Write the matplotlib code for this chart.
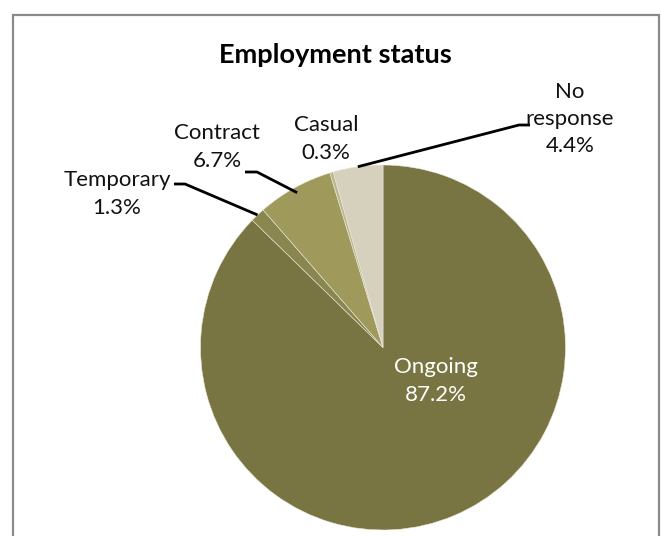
import numpy as np
import matplotlib.pyplot as plt
from matplotlib.patches import Rectangle

categories = ["Ongoing", "Temporary", "Contract", "Casual", "No response"]
label_text = ["Ongoing", "Temporary", "Contract", "Casual", "No\nresponse"]
values = [87.2, 1.3, 6.7, 0.3, 4.4]

couleurs = ["#787542", "#8A8650", "#9F9A5C", "#BDB98F", "#D5D1BD"]

W, H = 661, 536
centre = (383, H - 347.5)
rayon = 182.5

# positions des etiquettes (pixels, y vers le bas)
pos_lab = [(436, 381), (117, 194), (217, 147), (326, 139), (570, 119)]
# coudes des lignes de rappel : (debut, coude) ou None
rappels = [None, ((174, 184), (185, 184)), ((245, 172), (257, 172)), None,
           ((530, 125), (519, 125))]
# ou la ligne touche la part : (fraction de l'angle, rayon relatif)
contact = [None, (0.5, 1.0), (0.5, 0.97), None, (0.5, 1.0)]

plt.rcParams['font.family'] = ['Lato', 'DejaVu Sans']

fig = plt.figure(figsize=(W / 100, H / 100), dpi=100)
ax = fig.add_axes([0, 0, 1, 1])

ax.add_patch(Rectangle((12.5, -20), 646, H - 14 + 20 - 0.5, fill=False,
                       edgecolor="#8A8A8A", linewidth=1.6))

wedges, _ = ax.pie(values, colors=couleurs, startangle=90, counterclock=False,
                   center=centre, radius=rayon, frame=True,
                   wedgeprops=dict(edgecolor="#E8E6D8", linewidth=0.4))
ax.set_xlim(0, W)
ax.set_ylim(0, H)
ax.set_aspect("equal")
ax.axis("off")

ax.text(335, H - 55, "Employment status", ha="center", va="center",
        fontsize=19.5, fontweight="bold")

for i, w in enumerate(wedges):
    txt = f"{label_text[i]}\n{values[i]}%"
    px, py = pos_lab[i]
    coul = "white" if i == 0 else "#111111"
    ax.text(px, H - py, txt, ha="center", va="center", fontsize=16,
            color=coul, linespacing=1.45)
    if rappels[i] is not None:
        frac, rr = contact[i]
        ang = np.deg2rad(w.theta1 + frac * (w.theta2 - w.theta1))
        ex = centre[0] + rayon * rr * np.cos(ang)
        ey = centre[1] + rayon * rr * np.sin(ang)
        (x0, y0), (x1, y1) = rappels[i]
        ax.plot([x0, x1, ex], [H - y0, H - y1, ey], color="black", lw=2,
                solid_capstyle="butt")

fig.savefig("out.png", dpi=100)
